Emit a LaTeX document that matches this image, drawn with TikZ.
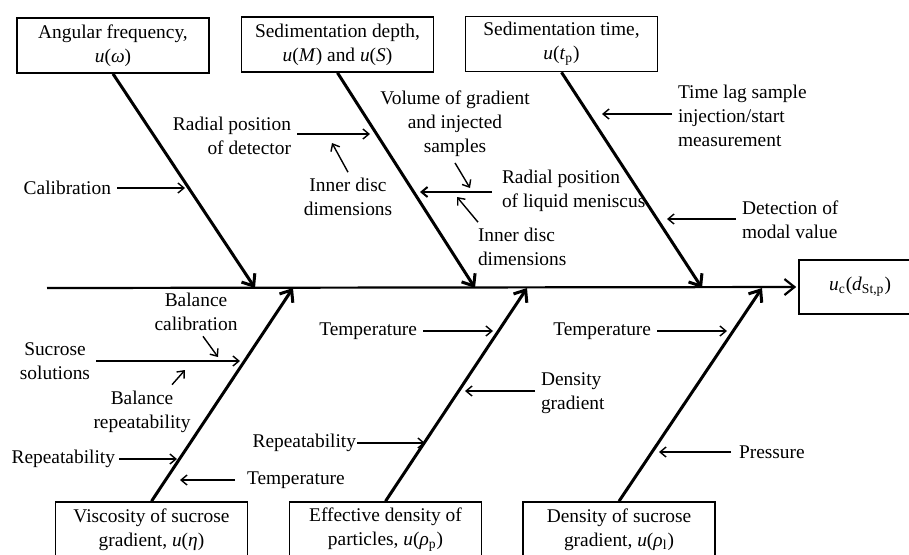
\documentclass[tikz,border=0pt]{standalone}
\usepackage{fontspec}
\setmainfont{Liberation Serif}
\usetikzlibrary{arrows.meta}
\tikzset{
  cause/.style={draw, line width=0.8pt, minimum width=96pt, minimum height=27.5pt, align=center, inner sep=1pt},
  factor/.style={inner sep=0pt, outer sep=3pt},
  bone/.style={line width=1.5pt, -{Straight Barb[length=5pt,width=8pt]}},
  sub/.style={line width=0.7pt, -{Straight Barb[length=3pt,width=5pt]}}
}

\begin{document}
\begin{tikzpicture}[x=0.5pt,y=-0.5pt,font=\fontsize{9.7}{12}\selectfont]
\clip (0,0) rectangle (909,554);

% effect and spine
\node[cause, minimum width=61pt, minimum height=27pt] (uc) at (860,287) {\textit{u}\textsubscript{c}(\textit{d}\textsubscript{St,p})};
\coordinate (s0) at (47,288);
\draw[line width=1.1pt, -{Straight Barb[length=5pt,width=8pt]}] (s0) -- ([xshift=-1pt]uc.west);

% main causes
\node[cause] (om) at (113,45.5) {Angular frequency,\\ \textit{u}(\textit{ω})};
\node[cause] (dep) at (337.5,44.5) {Sedimentation depth,\\ \textit{u}(\textit{M}) and \textit{u}(\textit{S})};
\node[cause] (tim) at (561.5,44) {Sedimentation time,\\ \textit{u}(\textit{t}\textsubscript{p})};
\node[cause] (eta) at (151.5,529.5) {Viscosity of sucrose\\ gradient, \textit{u}(\textit{η})};
\node[cause] (rhop) at (385.5,529.5) {Effective density of\\ particles, \textit{u}(\textit{ρ}\textsubscript{p})};
\node[cause] (rhol) at (619,529.5) {Density of sucrose\\ gradient, \textit{u}(\textit{ρ}\textsubscript{l})};

\coordinate (t1) at (255,288);
\coordinate (t2) at (475,288);
\coordinate (t3) at (702,288);
\coordinate (t4) at (293,288);
\coordinate (t5) at (527,288);
\coordinate (t6) at (762,288);
\foreach \b/\t in {om/t1,dep/t2,tim/t3}
{
	\draw[bone] (\b.south) -- (\t);
}
\foreach \b/\t in {eta/t4,rhop/t5,rhol/t6}
{
	\draw[bone] (\b.north) -- (\t);
}

% angular frequency
\node[factor, anchor=east] (calib) at (117,188) {Calibration};
\coordinate (c1) at (185,188);
\draw[sub] (calib.east |- c1) -- (c1);

% sedimentation depth
\node[factor, anchor=east, align=right] (raddet) at (297,135.5) {Radial position\\of detector};
\coordinate (c2) at (370,134);
\draw[sub] (raddet.east |- c2) -- (c2);
\node[factor, align=center] (innerL) at (348,197) {Inner disc\\dimensions};
\coordinate (c3) at (332,143);
\draw[sub] (innerL.north) -- (c3);
\node[factor, align=center] (volume) at (455,124) {Volume of gradient\\and injected\\samples};
\coordinate (c4) at (470,188);
\draw[sub] (volume.south) -- (c4);
\node[factor, anchor=west, align=left, outer sep=5pt] (radmen) at (492,191) {Radial position\\of liquid meniscus};
\coordinate (c5) at (420,192);
\draw[line width=1pt, -{Straight Barb[length=3pt,width=5pt]}] (radmen.west |- c5) -- (c5);
\node[factor, anchor=west, align=left] (innerR) at (472,247) {Inner disc\\dimensions};
\coordinate (c6) at (457,197);
\draw[sub] ([xshift=3pt]innerR.north west) -- (c6);

% sedimentation time
\node[factor, anchor=west, align=left] (timelag) at (672,116) {Time lag sample\\injection/start\\measurement};
\coordinate (c7) at (602,114);
\draw[sub] (timelag.west |- c7) -- (c7);
\node[factor, anchor=west, align=left] (detect) at (736,220) {Detection of\\modal value};
\coordinate (c8) at (667,219);
\draw[sub] (detect.west |- c8) -- (c8);

% viscosity
\node[factor, align=center] (balcal) at (196,311.5) {Balance\\calibration};
\coordinate (c9) at (218,357);
\draw[sub] ([xshift=3.5pt]balcal.south) -- (c9);
\node[factor, anchor=east, align=center] (sucrose) at (96,361.5) {Sucrose\\solutions};
\coordinate (c10) at (240,361);
\draw[sub] (sucrose.east |- c10) -- (c10);
\node[factor, align=center] (balrep) at (142,411.5) {Balance\\repeatability};
\coordinate (c11) at (185,370);
\draw[sub] ([xshift=15pt]balrep.north) -- (c11);
\node[factor, anchor=east, outer sep=2pt] (rep1) at (119,459) {Repeatability};
\coordinate (c12) at (177,459);
\draw[sub] (rep1.east |- c12) -- (c12);
\node[factor, anchor=west, outer sep=6pt] (temp1) at (235,480) {Temperature};
\coordinate (c13) at (180,480);
\draw[sub] (temp1.west |- c13) -- (c13);

% effective density
\node[factor, anchor=east] (temp2) at (423,331) {Temperature};
\coordinate (c14) at (493,331);
\draw[sub] (temp2.east |- c14) -- (c14);
\node[factor, anchor=east, outer sep=0.5pt] (rep2) at (357,443) {Repeatability};
\coordinate (c15) at (425,443);
\draw[sub] (rep2.east |- c15) -- (c15);
\node[factor, anchor=west] (densgr) at (535,393.5) [align=left] {Density\\gradient};
\coordinate (c16) at (465,391);
\draw[sub] (densgr.west |- c16) -- (c16);

% density of sucrose gradient
\node[factor, anchor=east] (temp3) at (657,331) {Temperature};
\coordinate (c17) at (727,331);
\draw[sub] (temp3.east |- c17) -- (c17);
\node[factor, anchor=west, outer sep=4pt] (press) at (731,452) {Pressure};
\coordinate (c18) at (659,452);
\draw[sub] (press.west |- c18) -- (c18);

\end{tikzpicture}
\end{document}
